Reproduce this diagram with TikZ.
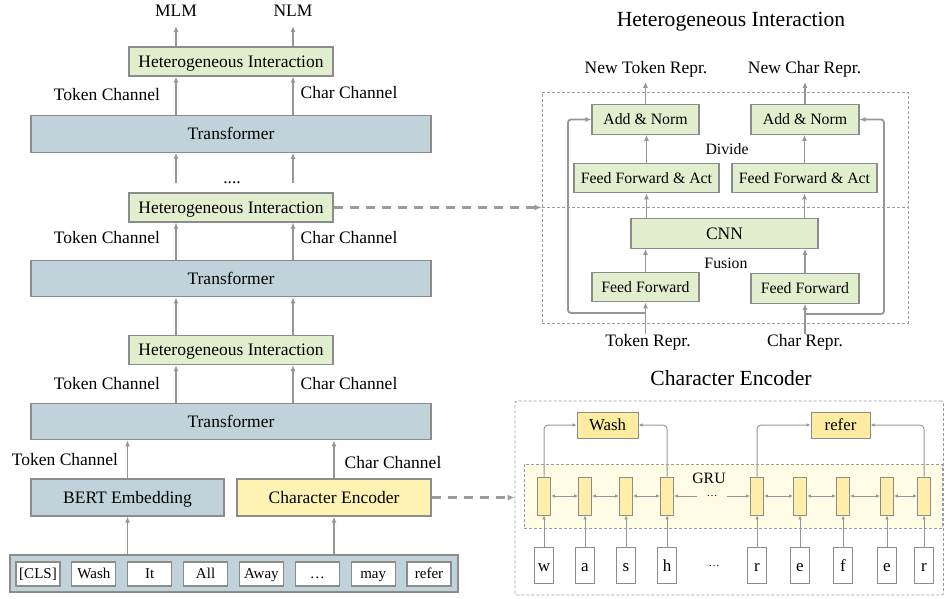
\documentclass[tikz,border=0pt]{standalone}
\usepackage{fontspec}
\setmainfont{Liberation Serif}
\usetikzlibrary{arrows.meta}

\definecolor{higreen}{RGB}{226,239,206}
\definecolor{trblue}{RGB}{193,211,218}
\definecolor{ceyellow}{RGB}{255,243,180}
\definecolor{wordyellow}{RGB}{255,236,160}
\definecolor{cellyellow}{RGB}{255,238,170}
\definecolor{grubg}{RGB}{254,252,228}
\definecolor{edgegray}{RGB}{140,140,140}
\definecolor{arrowgray}{RGB}{150,150,150}
\definecolor{dashgray}{RGB}{155,155,155}

\newcommand{\bigtxt}{\fontsize{17.5}{21}\selectfont}
\newcommand{\smalltxt}{\fontsize{15.8}{19}\selectfont}
\newcommand{\toktxt}{\fontsize{15}{18}\selectfont}
\newcommand{\titletxt}{\fontsize{21.6}{26}\selectfont}
\newcommand{\dotstxt}{\fontsize{11}{13}\selectfont}

\begin{document}
\begin{tikzpicture}[x=1pt,y=-1pt]

	\useasboundingbox (0,0) rectangle (944,599);

	\tikzset{
		blk/.style={draw=edgegray,line width=1.1pt,inner sep=0pt,font=\bigtxt,text height=11.6pt,text depth=0pt},
		hibox/.style={blk,fill=higreen,minimum width=204pt,minimum height=29pt},
		trbox/.style={blk,fill=trblue,minimum width=400pt,minimum height=36.5pt},
		tokbox/.style={blk,fill=white,minimum width=44pt,minimum height=24pt,font=\toktxt,text height=9.9pt},
		subbox/.style={blk,fill=higreen,minimum height=29.5pt,font=\smalltxt,text height=10.5pt},
		cell/.style={draw=edgegray,line width=0.9pt,fill=cellyellow,minimum width=13pt,minimum height=38pt,inner sep=0pt},
		chbox/.style={draw=edgegray,line width=0.9pt,fill=white,minimum width=19pt,minimum height=36pt,inner sep=0pt,font=\fontsize{17}{20}\selectfont,text height=12pt,text depth=0pt},
		wordbox/.style={draw=edgegray,line width=1pt,fill=wordyellow,minimum height=26pt,inner sep=0pt,font=\fontsize{16.8}{20}\selectfont,text height=11pt,text depth=0pt},
		lbl/.style={anchor=base,inner sep=0pt,font=\bigtxt},
		slbl/.style={anchor=base,inner sep=0pt,font=\smalltxt},
		panel/.style={draw=dashgray,line width=0.8pt,dash pattern=on 3pt off 2pt,inner sep=0pt},
		flow/.style={draw=arrowgray,line width=1.8pt,-{Latex[length=6pt,width=5pt]}},
		thinflow/.style={draw=arrowgray,line width=1pt,-{Latex[length=4pt,width=3.5pt]}},
		bothflow/.style={thinflow,{Latex[length=4pt,width=3.5pt]}-{Latex[length=4pt,width=3.5pt]}},
		dashflow/.style={draw=dashgray,line width=2.3pt,dash pattern=on 9pt off 7pt,-{Latex[length=7pt,width=6pt]}}
	}

	% stacked encoder

	\coordinate (tokcol) at (176,0);
	\coordinate (chrcol) at (293,0);

	\node[lbl] (mlm) at (176,17) {MLM};
	\node[lbl] (nlm) at (293,17) {NLM};
	\node[hibox] (hi1) at (231,61.5) {Heterogeneous Interaction};
	\node[trbox] (tr1) at (231,134) {Transformer};
	\node[lbl] (dots) at (232,183) {....};
	\node[hibox] (hi2) at (231,207.5) {Heterogeneous Interaction};
	\node[trbox] (tr2) at (231,278.5) {Transformer};
	\node[hibox] (hi3) at (231,350) {Heterogeneous Interaction};
	\node[trbox] (tr3) at (231,421.5) {Transformer};
	\node[blk,fill=trblue,minimum width=193pt,minimum height=37pt] (bert) at (127.5,497.5) {BERT Embedding};
	\node[blk,fill=ceyellow,minimum width=194pt,minimum height=37pt] (ce) at (334,497.5) {Character Encoder};

	\node[lbl] (tc1) at (107,101) {Token Channel};   \node[lbl] (cc1) at (349,98.5) {Char Channel};
	\node[lbl] (tc2) at (107,243) {Token Channel};   \node[lbl] (cc2) at (349,243) {Char Channel};
	\node[lbl] (tc3) at (107,389) {Token Channel};   \node[lbl] (cc3) at (349,389) {Char Channel};
	\node[lbl] (tc4) at (65,465) {Token Channel};    \node[lbl] (cc4) at (393,468) {Char Channel};

	\draw[flow] (hi1.north -| mlm) -- ([yshift=-9pt]mlm.base);
	\draw[flow] (hi1.north -| nlm) -- ([yshift=-9pt]nlm.base);
	\foreach \c in {tokcol,chrcol} {
		\draw[flow] (tr1.north -| \c) -- (hi1.south -| \c);
		\draw[flow] (dots.base -| \c) -- (tr1.south -| \c);
		\draw[flow] (tr2.north -| \c) -- (hi2.south -| \c);
		\draw[flow] (hi3.north -| \c) -- (tr2.south -| \c);
		\draw[flow] (tr3.north -| \c) -- (hi3.south -| \c);
	}

	% input sentence

	\node[blk,fill=trblue,minimum width=448pt,minimum height=37pt] (seq) at (234,573.5) {};
	\foreach \w [count=\i from 0] in {{[CLS]},Wash,It,All,Away,\dots,may,refer}
		\node[tokbox] (tok\i) at ({38+55.86*\i},574) {\w};

	\draw[flow] (seq.north -| bert) -- (bert.south);
	\draw[flow] (seq.north -| ce) -- (ce.south);
	\draw[flow] (bert.north) -- (tr3.south -| bert);
	\draw[flow] (ce.north) -- (tr3.south -| ce);

	% heterogeneous interaction

	\node[font=\titletxt,anchor=base,inner sep=0pt] (hititle) at (731,27) {Heterogeneous Interaction};
	\node[panel,minimum width=366pt,minimum height=231pt] (hipanel) at (725,207.5) {};
	\draw[panel] (hipanel.west) -- (hipanel.east);

	\node[lbl] (newtok) at (646,74) {New Token Repr.};
	\node[lbl] (newchr) at (804.5,74) {New Char Repr.};
	\node[subbox,minimum width=107pt] (anl) at (645.5,119.5) {Add \& Norm};
	\node[subbox,minimum width=108pt] (anr) at (805,119.5) {Add \& Norm};
	\node[slbl] (divide) at (727,154) {Divide};
	\node[subbox,minimum width=145pt] (ffal) at (646.5,178) {Feed Forward \& Act};
	\node[subbox,minimum width=145pt] (ffar) at (804.5,178) {Feed Forward \& Act};
	\node[subbox,minimum width=187pt,font=\bigtxt,text height=11.6pt] (cnn) at (724.5,233.5) {CNN};
	\node[slbl] (fusion) at (726,268) {Fusion};
	\node[subbox,minimum width=107pt] (ffl) at (645.5,287) {Feed Forward};
	\node[subbox,minimum width=108pt] (ffr) at (805,288.5) {Feed Forward};
	\node[lbl] (tokrepr) at (648,346.5) {Token Repr.};
	\node[lbl] (chrrepr) at (805,346.5) {Char Repr.};

	\draw[flow] (tokrepr.north -| ffl) -- (ffl.south);
	\draw[flow] (chrrepr.north -| ffr) -- (ffr.south);
	\draw[flow] (ffl.north) -- (cnn.south -| ffl);
	\draw[flow] (ffr.north) -- (cnn.south -| ffr);
	\draw[flow] (cnn.north -| ffal) -- (ffal.south);
	\draw[flow] (cnn.north -| ffar) -- (ffar.south);
	\draw[flow] (ffal.north) -- (anl.south -| ffal);
	\draw[flow] (ffar.north) -- (anr.south -| ffar);
	\draw[flow,shorten >=4pt] (anl.north) -- (anl.north |- newtok.south);
	\draw[flow,shorten >=4pt] (anr.north) -- (anr.north |- newchr.south);

	\coordinate (resl) at (568,313);
	\coordinate (resr) at (884,314);
	\draw[flow,rounded corners=3pt] (ffl |- resl) -- (resl) |- (anl.west);
	\draw[flow,rounded corners=3pt] (ffr |- resr) -- (resr) |- (anr.east);

	\draw[dashflow] (hi2.east) -- (hi2.east -| hipanel.west);

	% character encoder

	\node[font=\titletxt,anchor=base,inner sep=0pt] (cetitle) at (731,385) {Character Encoder};
	\node[panel,rounded corners=2pt,minimum width=428.5pt,minimum height=194pt] (cepanel) at (729.25,498) {};
	\node[panel,fill=grubg,minimum width=418pt,minimum height=64pt] (grubox) at (733,496) {};
	\node[slbl] (grulbl) at (709,483) {GRU};

	\foreach \x/\ch [count=\i] in {544/w,585/a,626/s,667/h,757/r,800/e,843/f,887/e,924/r} {
		\node[cell] (c\i) at (\x,496) {};
		\node[chbox] (ch\i) at (\x,565) {\ch};
		\draw[thinflow] (ch\i) -- (c\i);
	}
	\node[font=\dotstxt,anchor=base,inner sep=0pt] (chdots) at (714,566) {\dots};
	\node[font=\dotstxt,inner sep=0pt,minimum width=30pt,minimum height=6pt] (grudots) at (712,496) {\dots};

	\foreach \a/\b in {1/2,2/3,3/4,5/6,6/7,7/8,8/9}
		\draw[bothflow] (c\a) -- (c\b);
	\draw[thinflow] (grudots) -- (c4);
	\draw[thinflow] (grudots) -- (c5);

	\node[wordbox,minimum width=61pt] (wash) at (607.5,425) {Wash};
	\node[wordbox,minimum width=59pt] (refer) at (840.5,425) {refer};
	\draw[thinflow,rounded corners=4pt] (c1.north) |- (wash.west);
	\draw[thinflow,rounded corners=4pt] (c4.north) |- (wash.east);
	\draw[thinflow,rounded corners=4pt] (c5.north) |- (refer.west);
	\draw[thinflow,rounded corners=4pt] (c9.north) |- (refer.east);

	\draw[dashflow] (ce.east) -- (ce.east -| cepanel.west);

\end{tikzpicture}
\end{document}
